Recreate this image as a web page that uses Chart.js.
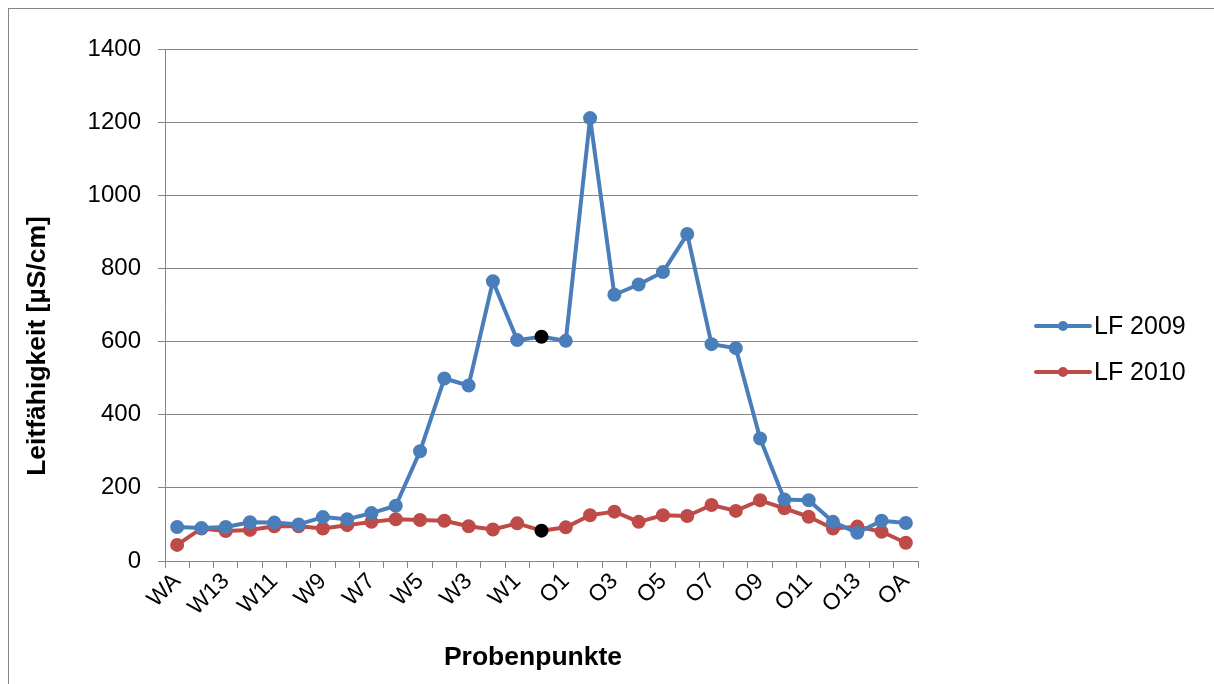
<!DOCTYPE html>
<html>
<head>
<meta charset="utf-8">
<script src="https://cdn.jsdelivr.net/npm/chart.js@4"></script>
<style>
  html, body { margin: 0; padding: 0; background: #fff; }
  #wrap { position: absolute; left: 0; top: 0; width: 1214px; height: 684px; }
  #frame { position: absolute; left: 8px; top: 8px; width: 1300px; height: 800px; border: 1px solid #868686; }
</style>
</head>
<body>
<div id="wrap">
  <div id="frame"></div>
  <canvas id="chart" width="1214" height="684"></canvas>
</div>
<script>
// Probenpunkte (x categories)
const categories = ['WA', 'W14', 'W13', 'W12', 'W11', 'W10', 'W9', 'W8', 'W7', 'W6', 'W5', 'W4', 'W3', 'W2', 'W1', 'M',
  'O1', 'O2', 'O3', 'O4', 'O5', 'O6', 'O7', 'O8', 'O9', 'O10', 'O11', 'O12', 'O13', 'O14', 'OA'];

// Leitfähigkeit [µS/cm]
const lf2009 = [93, 90, 93, 106, 105, 100, 120, 114, 131, 151, 300, 499, 480, 765, 604, 613,
  602, 1211, 728, 756, 790, 894, 593, 582, 335, 168, 166, 107, 77, 110, 104];
const lf2010 = [44, 89, 82, 85, 95, 95, 89, 98, 107, 114, 112, 110, 95, 86, 103, 83,
  92, 125, 135, 107, 125, 123, 153, 137, 166, 144, 121, 89, 94, 80, 50];

const yTicks = [0, 200, 400, 600, 800, 1000, 1200, 1400];
const markedIndex = 15;
const xTitle = 'Probenpunkte';
const yTitle = 'Leitfähigkeit [µS/cm]';

const BLUE = '#4A7EBB';
const RED = '#BE4B48';
const GRID = '#868686';
const FONT = '"Liberation Sans", Arial, sans-serif';

function pointColors(base) {
  return categories.map((_, i) => i === markedIndex ? '#000000' : base);
}

// axis titles placed like the Excel original (not centred on the plot area)
const axisTitles = {
  id: 'axisTitles',
  afterDraw(chart) {
    const ctx = chart.ctx;
    ctx.save();
    ctx.fillStyle = '#000';
    ctx.font = 'bold 26.5px ' + FONT;
    ctx.textAlign = 'center';
    ctx.textBaseline = 'middle';
    ctx.fillText(xTitle, 533, 658);
    ctx.translate(38, 346);
    ctx.rotate(-Math.PI / 2);
    ctx.fillText(yTitle, 0, 0);
    ctx.restore();
  }
};

// legend drawn on the right: line with round marker + label
const sideLegend = {
  id: 'sideLegend',
  afterDraw(chart) {
    const ctx = chart.ctx;
    const items = [{ ds: chart.data.datasets[0], y: 326 }, { ds: chart.data.datasets[1], y: 372 }];
    ctx.save();
    items.forEach(it => {
      ctx.strokeStyle = it.ds.borderColor;
      ctx.lineWidth = 4;
      ctx.lineCap = 'round';
      ctx.beginPath();
      ctx.moveTo(1036, it.y);
      ctx.lineTo(1090, it.y);
      ctx.stroke();
      ctx.fillStyle = it.ds.borderColor;
      ctx.beginPath();
      ctx.arc(1063, it.y, 5, 0, Math.PI * 2);
      ctx.fill();
      ctx.fillStyle = '#000';
      ctx.font = '25px ' + FONT;
      ctx.textBaseline = 'middle';
      ctx.fillText(it.ds.label, 1094, it.y + 1);
    });
    ctx.restore();
  }
};

new Chart(document.getElementById('chart'), {
  type: 'line',
  data: {
    labels: categories,
    datasets: [
      {
        label: 'LF 2009',
        data: lf2009,
        borderColor: BLUE,
        backgroundColor: BLUE,
        pointBackgroundColor: pointColors(BLUE),
        pointBorderColor: pointColors(BLUE),
        borderWidth: 4,
        borderJoinStyle: 'round',
        pointRadius: 5,
        tension: 0,
      },
      {
        label: 'LF 2010',
        data: lf2010,
        borderColor: RED,
        backgroundColor: RED,
        pointBackgroundColor: pointColors(RED),
        pointBorderColor: pointColors(RED),
        borderWidth: 4,
        borderJoinStyle: 'round',
        pointRadius: 5,
        tension: 0,
      },
    ],
  },
  options: {
    responsive: false,
    animation: false,
    layout: { padding: { left: 0, top: 49, right: 296, bottom: 0 } },
    plugins: {
      legend: { display: false },
      tooltip: { enabled: false },
    },
    scales: {
      x: {
        offset: true,
        grid: { offset: true, drawOnChartArea: false, drawTicks: true, tickLength: 7, color: GRID, lineWidth: 1 },
        border: { color: GRID, width: 1 },
        ticks: {
          autoSkip: false,
          maxRotation: 45,
          minRotation: 45,
          color: '#000',
          padding: 0,
          font: { family: FONT, size: 23 },
          callback: function(val, i) { return i % 2 === 0 ? categories[i] : ''; },
        },
        afterFit: function(scale) { scale.height = 123; },
      },
      y: {
        min: 0,
        max: 1400,
        afterBuildTicks: function(scale) { scale.ticks = yTicks.map(v => ({ value: v })); },
        grid: { color: GRID, lineWidth: 1, tickLength: 7 },
        border: { color: GRID, width: 1 },
        ticks: {
          color: '#000',
          padding: 17,
          font: { family: FONT, size: 24 },
          callback: function(v) { return String(v); },
        },
        afterFit: function(scale) { scale.width = 165; },
      },
    },
  },
  plugins: [sideLegend, axisTitles],
});
</script>
</body>
</html>
